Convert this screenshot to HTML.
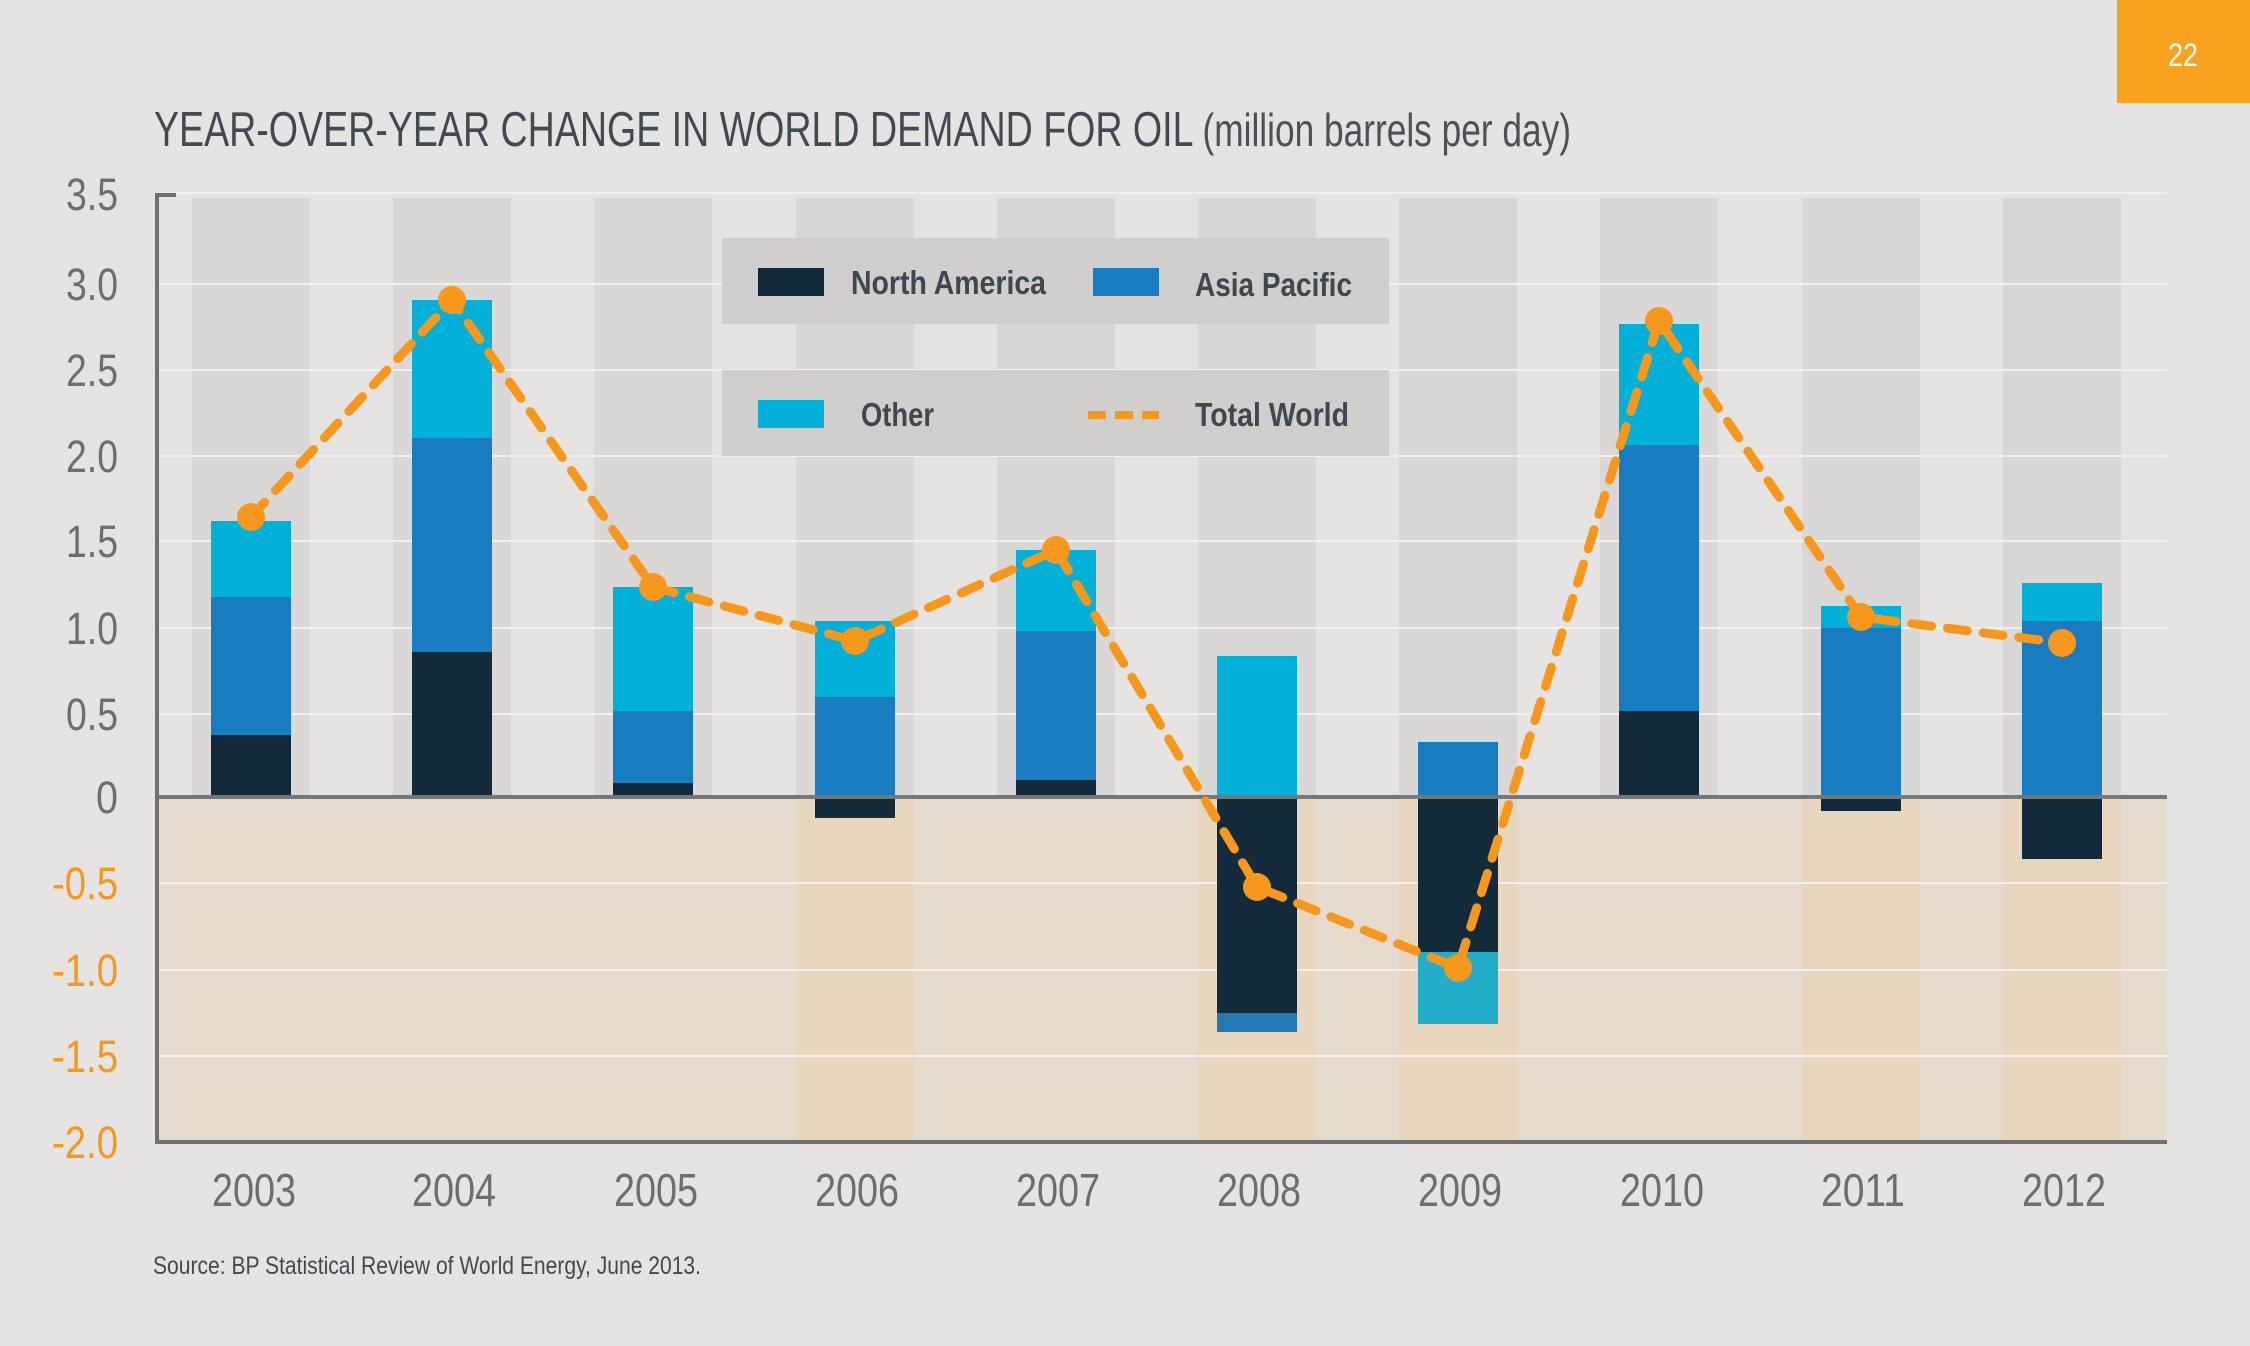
<!DOCTYPE html>
<html><head><meta charset="utf-8"><style>html,body{margin:0;padding:0;background:#e5e4e2}svg{display:block}</style></head>
<body>
<svg width="2250" height="1346" viewBox="0 0 2250 1346" xmlns="http://www.w3.org/2000/svg" font-family="'Liberation Sans Narrow','Liberation Sans',sans-serif">
<rect width="2250" height="1346" fill="#e5e4e2"/>
<rect x="2117" y="0" width="133" height="103" fill="#f8a21f"/>
<text x="2183" y="66" fill="#fff" font-size="32" text-anchor="middle" textLength="30" lengthAdjust="spacingAndGlyphs">22</text>
<text x="154" y="146" fill="#414a53" font-size="49" textLength="1417" lengthAdjust="spacingAndGlyphs">YEAR-OVER-YEAR CHANGE IN WORLD DEMAND FOR OIL <tspan font-size="46" fill="#4a5158">(million barrels per day)</tspan></text>
<rect x="157" y="797" width="2010" height="345" fill="#e5dbcf"/>
<g>
<rect x="192" y="198" width="118" height="599" fill="#d9d8d6"/>
<rect x="393" y="198" width="118" height="599" fill="#d9d8d6"/>
<rect x="594" y="198" width="118" height="599" fill="#d9d8d6"/>
<rect x="796" y="198" width="118" height="599" fill="#d9d8d6"/>
<rect x="997" y="198" width="118" height="599" fill="#d9d8d6"/>
<rect x="1198" y="198" width="118" height="599" fill="#d9d8d6"/>
<rect x="1399" y="198" width="118" height="599" fill="#d9d8d6"/>
<rect x="1600" y="198" width="118" height="599" fill="#d9d8d6"/>
<rect x="1802" y="198" width="118" height="599" fill="#d9d8d6"/>
<rect x="2003" y="198" width="118" height="599" fill="#d9d8d6"/>
<rect x="796" y="797" width="118" height="345" fill="#e8d6bf"/>
<rect x="1198" y="797" width="118" height="345" fill="#e8d6bf"/>
<rect x="1399" y="797" width="118" height="345" fill="#e8d6bf"/>
<rect x="1802" y="797" width="118" height="345" fill="#e8d6bf"/>
<rect x="2003" y="797" width="118" height="345" fill="#e8d6bf"/>
</g>
<g stroke="#f2f1f0" stroke-width="2">
<line x1="157" x2="2167" y1="193" y2="193"/><line x1="157" x2="2167" y1="284" y2="284"/><line x1="157" x2="2167" y1="370" y2="370"/><line x1="157" x2="2167" y1="456" y2="456"/><line x1="157" x2="2167" y1="541" y2="541"/><line x1="157" x2="2167" y1="628" y2="628"/><line x1="157" x2="2167" y1="714" y2="714"/><line x1="157" x2="2167" y1="883" y2="883"/><line x1="157" x2="2167" y1="970" y2="970"/><line x1="157" x2="2167" y1="1056" y2="1056"/>
</g>
<g>
<rect x="211" y="735" width="80" height="62" fill="#132a3a"/><rect x="211" y="597" width="80" height="138" fill="#177dc0"/><rect x="211" y="521" width="80" height="76" fill="#03b0d7"/>
<rect x="412" y="652" width="80" height="145" fill="#132a3a"/><rect x="412" y="438" width="80" height="214" fill="#177dc0"/><rect x="412" y="300" width="80" height="138" fill="#03b0d7"/>
<rect x="613" y="783" width="80" height="14" fill="#132a3a"/><rect x="613" y="711" width="80" height="72" fill="#177dc0"/><rect x="613" y="587" width="80" height="124" fill="#03b0d7"/>
<rect x="815" y="797" width="80" height="21" fill="#132a3a"/><rect x="815" y="697" width="80" height="100" fill="#177dc0"/><rect x="815" y="621" width="80" height="76" fill="#03b0d7"/>
<rect x="1016" y="780" width="80" height="17" fill="#132a3a"/><rect x="1016" y="631" width="80" height="149" fill="#177dc0"/><rect x="1016" y="550" width="80" height="81" fill="#03b0d7"/>
<rect x="1217" y="656" width="80" height="141" fill="#03b0d7"/><rect x="1217" y="797" width="80" height="216" fill="#132a3a"/><rect x="1217" y="1013" width="80" height="19" fill="#2379b3"/>
<rect x="1418" y="742" width="80" height="55" fill="#177dc0"/><rect x="1418" y="797" width="80" height="155" fill="#132a3a"/><rect x="1418" y="952" width="80" height="72" fill="#22adc9"/>
<rect x="1619" y="711" width="80" height="86" fill="#132a3a"/><rect x="1619" y="445" width="80" height="266" fill="#177dc0"/><rect x="1619" y="324" width="80" height="121" fill="#03b0d7"/>
<rect x="1821" y="797" width="80" height="14" fill="#132a3a"/><rect x="1821" y="628" width="80" height="169" fill="#177dc0"/><rect x="1821" y="606" width="80" height="22" fill="#03b0d7"/>
<rect x="2022" y="797" width="80" height="62" fill="#132a3a"/><rect x="2022" y="621" width="80" height="176" fill="#177dc0"/><rect x="2022" y="583" width="80" height="38" fill="#03b0d7"/>
</g>
<line x1="157" y1="797" x2="2167" y2="797" stroke="#75787b" stroke-width="4"/>
<polyline points="176,195 157,195 157,1142 2167,1142" fill="none" stroke="#707070" stroke-width="4"/>
<rect x="722" y="238" width="667" height="86" fill="#d0cfcd"/>
<rect x="722" y="370" width="667" height="86" fill="#d0cfcd"/>
<rect x="758" y="268" width="66" height="28" fill="#132a3a"/>
<g font-size="33" fill="#3f4750" font-weight="bold" lengthAdjust="spacingAndGlyphs">
<text x="851" y="294" textLength="195" lengthAdjust="spacingAndGlyphs">North America</text>
<text x="1195" y="296" textLength="157" lengthAdjust="spacingAndGlyphs">Asia Pacific</text>
<text x="861" y="426" textLength="73" lengthAdjust="spacingAndGlyphs">Other</text>
<text x="1195" y="426" textLength="154" lengthAdjust="spacingAndGlyphs">Total World</text>
</g>
<rect x="1093" y="268" width="66" height="28" fill="#177dc0"/>
<rect x="758" y="400" width="66" height="28" fill="#03b0d7"/>
<line x1="1088" y1="415" x2="1159" y2="415" stroke="#f7981d" stroke-width="8" stroke-dasharray="18,9"/>
<polyline points="251,517 452,300 653,587 855,641 1056,550 1257,887 1458,968 1659,321 1861,617 2062,643" fill="none" stroke="#f7981d" stroke-width="9" stroke-linecap="round" stroke-dasharray="20,16"/>
<g fill="#f7981d">
<circle cx="251" cy="517" r="14"/><circle cx="452" cy="300" r="14"/><circle cx="653" cy="587" r="14"/><circle cx="855" cy="641" r="14"/><circle cx="1056" cy="550" r="14"/><circle cx="1257" cy="887" r="14"/><circle cx="1458" cy="968" r="14"/><circle cx="1659" cy="321" r="14"/><circle cx="1861" cy="617" r="14"/><circle cx="2062" cy="643" r="14"/>
</g>
<g font-size="45" fill="#6d6e71">
<text x="66" y="210" textLength="52" lengthAdjust="spacingAndGlyphs">3.5</text>
<text x="66" y="300" textLength="52" lengthAdjust="spacingAndGlyphs">3.0</text>
<text x="66" y="386" textLength="52" lengthAdjust="spacingAndGlyphs">2.5</text>
<text x="66" y="472" textLength="52" lengthAdjust="spacingAndGlyphs">2.0</text>
<text x="66" y="557" textLength="52" lengthAdjust="spacingAndGlyphs">1.5</text>
<text x="66" y="644" textLength="52" lengthAdjust="spacingAndGlyphs">1.0</text>
<text x="66" y="730" textLength="52" lengthAdjust="spacingAndGlyphs">0.5</text>
<text x="96" y="813" textLength="22" lengthAdjust="spacingAndGlyphs">0</text>
<g fill="#f7981d">
<text x="52" y="899" textLength="66" lengthAdjust="spacingAndGlyphs">-0.5</text>
<text x="52" y="986" textLength="66" lengthAdjust="spacingAndGlyphs">-1.0</text>
<text x="52" y="1072" textLength="66" lengthAdjust="spacingAndGlyphs">-1.5</text>
<text x="52" y="1158" textLength="66" lengthAdjust="spacingAndGlyphs">-2.0</text>
</g>
</g>
<g font-size="46" fill="#6d6e71">
<text x="212" y="1206" textLength="84" lengthAdjust="spacingAndGlyphs">2003</text>
<text x="412" y="1206" textLength="84" lengthAdjust="spacingAndGlyphs">2004</text>
<text x="614" y="1206" textLength="84" lengthAdjust="spacingAndGlyphs">2005</text>
<text x="815" y="1206" textLength="84" lengthAdjust="spacingAndGlyphs">2006</text>
<text x="1016" y="1206" textLength="84" lengthAdjust="spacingAndGlyphs">2007</text>
<text x="1217" y="1206" textLength="84" lengthAdjust="spacingAndGlyphs">2008</text>
<text x="1418" y="1206" textLength="84" lengthAdjust="spacingAndGlyphs">2009</text>
<text x="1620" y="1206" textLength="84" lengthAdjust="spacingAndGlyphs">2010</text>
<text x="1821" y="1206" textLength="84" lengthAdjust="spacingAndGlyphs">2011</text>
<text x="2022" y="1206" textLength="84" lengthAdjust="spacingAndGlyphs">2012</text>
</g>
<text x="153" y="1274" font-size="25" fill="#414a53" textLength="548" lengthAdjust="spacingAndGlyphs">Source: BP Statistical Review of World Energy, June 2013.</text>
</svg>
</body></html>
